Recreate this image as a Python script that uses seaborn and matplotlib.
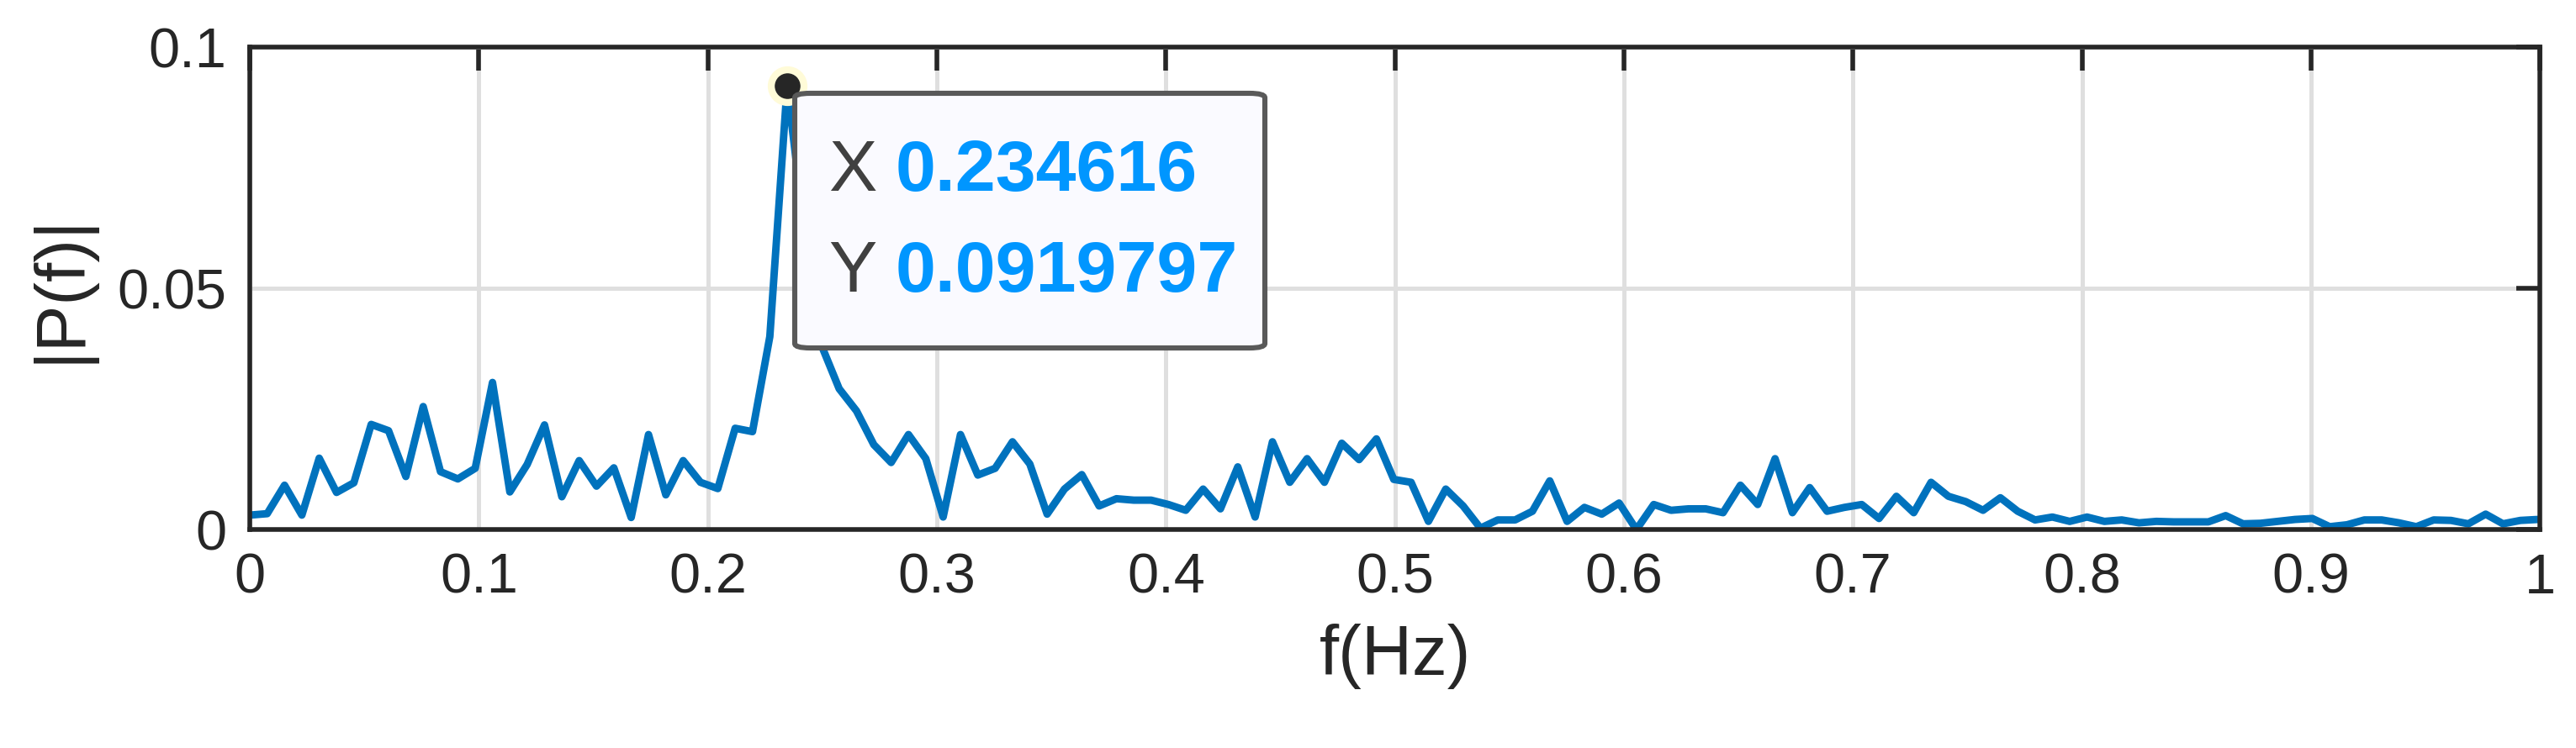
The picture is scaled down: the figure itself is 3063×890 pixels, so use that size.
import numpy as np
import pandas as pd
import seaborn as sns
import matplotlib.pyplot as plt
from matplotlib.patches import FancyBboxPatch

# spectrum magnitudes, bin spacing from the datatip
peak_f = 0.234616
peak_p = 0.0919797
amps = [
    0.0030, 0.0033, 0.0092, 0.0030, 0.0148, 0.0077, 0.0097, 0.0218, 0.0205, 0.0110,
    0.0255, 0.0120, 0.0105, 0.0127, 0.0305, 0.0078, 0.0135, 0.0217, 0.0068, 0.0143,
    0.0090, 0.0128, 0.0025, 0.0197, 0.0072, 0.0143, 0.0098, 0.0085, 0.0210, 0.0203,
    0.0400, peak_p, 0.0620, 0.0380,
    0.0292, 0.0246, 0.0176, 0.0139, 0.0197, 0.0147, 0.0026, 0.0197, 0.0113, 0.0127,
    0.0182, 0.0136, 0.0032, 0.0084, 0.0114, 0.0049, 0.0064, 0.0061, 0.0061, 0.0052,
    0.0040, 0.0084, 0.0043, 0.0130, 0.0026, 0.0182, 0.0098, 0.0147, 0.0098, 0.0179,
    0.0145, 0.0188, 0.0104, 0.0098,
    0.0017, 0.0084, 0.0049, 0.0003, 0.0020, 0.0020, 0.0038, 0.0101, 0.0017, 0.0046,
    0.0032, 0.0055, 0.0000, 0.0052, 0.0040, 0.0043, 0.0043, 0.0035, 0.0092, 0.0052,
    0.0147, 0.0035, 0.0087, 0.0038, 0.0046, 0.0052, 0.0023, 0.0069, 0.0035, 0.0098,
    0.0069, 0.0058, 0.0040,
    0.0066, 0.0038, 0.0020, 0.0026, 0.0017, 0.0026, 0.0017, 0.0020, 0.0014, 0.0017,
    0.0016, 0.0016, 0.0016, 0.0029, 0.0012, 0.0013, 0.0017, 0.0021, 0.0023, 0.0006,
    0.0010, 0.0020, 0.0020, 0.0014, 0.0006, 0.0020, 0.0019, 0.0012, 0.0032, 0.0012,
    0.0019, 0.0021,
]
df_bin = peak_f / 31
freqs = np.arange(len(amps)) * df_bin
df = pd.DataFrame({'f': freqs, 'P': amps})

sns.set_style('white')
plt.rcParams['font.family'] = ['Liberation Sans', 'DejaVu Sans']

fig = plt.figure(figsize=(15.315, 4.45), dpi=200)
ax = fig.add_axes([0.097, 0.292, 0.889, 0.645])

sns.lineplot(data=df, x='f', y='P', ax=ax, color='#0072BD', linewidth=3.2)
ax.plot([peak_f], [peak_p], 'o', color='#262626', markersize=14,
        markeredgecolor='#fffbd8', markeredgewidth=3, zorder=5, clip_on=False)

ax.set_xlim(0, 1)
ax.set_ylim(0, 0.1)
ax.set_xticks(np.arange(0, 1.01, 0.1))
ax.set_xticklabels(['0', '0.1', '0.2', '0.3', '0.4', '0.5', '0.6', '0.7', '0.8', '0.9', '1'])
ax.set_yticks([0, 0.05, 0.1])
ax.set_yticklabels(['0', '0.05', '0.1'])
ax.grid(True, color='#dfdfdf', linewidth=1.8)
ax.set_axisbelow(True)
for s in ax.spines.values():
    s.set_color('#262626')
    s.set_linewidth(2)
ax.tick_params(direction='in', length=10, width=2, colors='#262626',
               labelsize=24, top=True, right=True, pad=10)
ax.set_xlabel('f(Hz)', fontsize=30, color='#262626', labelpad=8)
ax.set_ylabel('|P(f)|', fontsize=30, color='#262626', labelpad=10)

# datatip
box = FancyBboxPatch((945 / 3063, 1 - 414 / 890), 559 / 3063, 303 / 890,
                     boxstyle='round,pad=0,rounding_size=0.006',
                     transform=fig.transFigure, facecolor='#fafaff',
                     edgecolor='#595959', linewidth=2.2, zorder=6)
fig.patches.append(box)
for yy, lab, val in [(1 - 205 / 890, 'X', '0.234616'), (1 - 325 / 890, 'Y', '0.0919797')]:
    fig.text(985 / 3063, yy, lab, fontsize=31, color='#404040', va='center', zorder=7)
    fig.text(1065 / 3063, yy, val, fontsize=31, color='#0096FF', fontweight='bold',
             va='center', zorder=7)

fig.savefig('out.png', dpi=200, facecolor='white')
